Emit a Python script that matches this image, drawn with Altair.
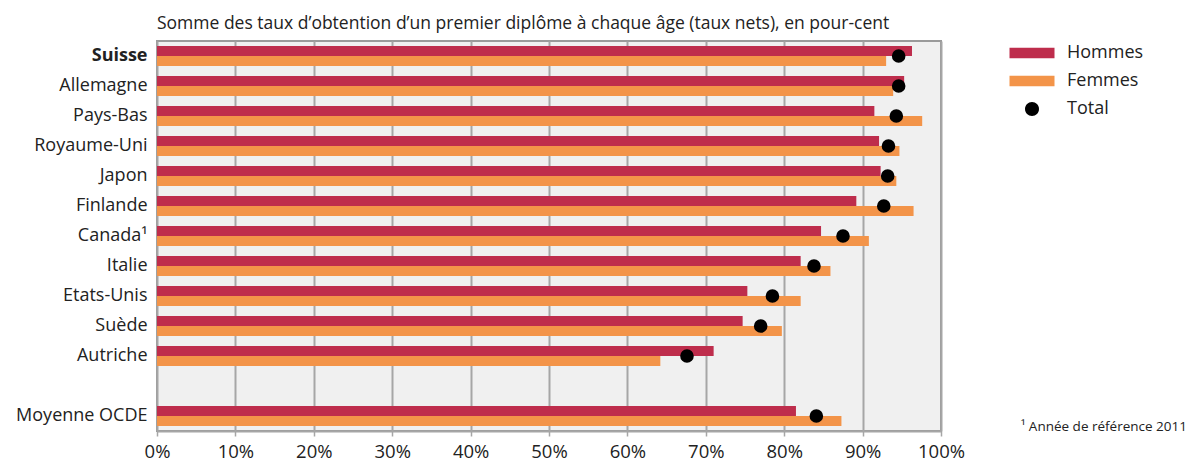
import altair as alt
import pandas as pd

countries = ["Suisse", "Allemagne", "Pays-Bas", "Royaume-Uni", "Japon", "Finlande",
             "Canada¹", "Italie", "Etats-Unis", "Suède", "Autriche", "Moyenne OCDE"]
hommes = [96.3, 95.3, 91.5, 92.1, 92.3, 89.2, 84.7, 82.1, 75.3, 74.7, 71.0, 81.5]
femmes = [93.0, 93.9, 97.6, 94.7, 94.3, 96.5, 90.8, 85.9, 82.1, 79.7, 64.2, 87.3]
total = [94.6, 94.6, 94.3, 93.3, 93.2, 92.7, 87.5, 83.8, 78.5, 77.0, 67.6, 84.1]

y_domain = countries[:-1] + [" "] + countries[-1:]
series = ["Hommes", "Femmes", "Total"]
colors = ["#BE2D4C", "#F39449", "#000000"]
x_ticks = [i / 10 for i in range(11)]

FONT = "Open Sans"

bars = pd.DataFrame({
    "pays": countries * 2,
    "sexe": ["Hommes"] * len(countries) + ["Femmes"] * len(countries),
    "taux": [v / 100 for v in hommes + femmes],
})
dots = pd.DataFrame({
    "pays": countries,
    "sexe": ["Total"] * len(countries),
    "taux": [v / 100 for v in total],
})
note = pd.DataFrame({"t": ["¹ Année de référence 2011"]})

RECT = "M-2.25,-0.53H2.25V0.53H-2.25Z"
CIRC = "M-0.7,0A0.7,0.7,0,1,1,0.7,0A0.7,0.7,0,1,1,-0.7,0Z"

color = alt.Color(
    "sexe:N",
    scale=alt.Scale(domain=series, range=colors),
    title=None,
    legend=alt.Legend(
        orient="none", legendX=865, legendY=2,
        symbolSize=400,
        symbolType=alt.ExprRef(f"datum.value == 'Total' ? '{CIRC}' : '{RECT}'"),
        symbolStrokeWidth=0, symbolOpacity=1, labelFontSize=18, labelFont=FONT, labelColor="#222",
        labelOffset=25, rowPadding=9, padding=0,
    ),
)

y_enc = alt.Y(
    "pays:N", sort=y_domain,
    scale=alt.Scale(domain=y_domain, paddingInner=0, paddingOuter=0),
    axis=alt.Axis(title=None, ticks=False, domain=False, labelFontSize=18, labelFont=FONT,
                  labelColor="#222", labelPadding=10,
                  labelFontWeight=alt.ExprRef("datum.value == 'Suisse' ? 'bold' : 'normal'")),
)
x_enc = alt.X(
    "taux:Q",
    scale=alt.Scale(domain=[0, 1], nice=False),
    axis=alt.Axis(title=None, format="%", values=x_ticks, grid=True, gridColor="#a6a6a6",
                  gridWidth=2, domain=True, domainColor="#a6a6a6", domainWidth=2,
                  tickColor="#a6a6a6", tickSize=5, tickWidth=1.5, labelFlush=False,
                  labelFontSize=18.5, labelFont=FONT, labelColor="#222", labelPadding=6),
)

bar_layer = alt.Chart(bars).mark_bar(size=10).encode(
    y=y_enc, x=x_enc, color=color,
    yOffset=alt.YOffset("sexe:N", sort=["Hommes", "Femmes"],
                        scale=alt.Scale(domain=["Hommes", "Femmes"], paddingInner=0, paddingOuter=0.5)),
)
dot_layer = alt.Chart(dots).mark_point(filled=True, size=185, opacity=1, shape="circle").encode(
    y=alt.Y("pays:N", sort=y_domain), x="taux:Q", color=color,
)
note_layer = alt.Chart(note).mark_text(
    align="right", baseline="middle", fontSize=13.5, font=FONT, color="#222"
).encode(text="t:N", x=alt.value(1030), y=alt.value(386))

chart = alt.layer(bar_layer, dot_layer, note_layer).properties(
    width=784, height=390,
    autosize=alt.AutoSizeParams(type="none"),
    padding={"left": 149, "top": 33, "right": 246, "bottom": 38},
    title=alt.Title(
        "Somme des taux d’obtention d’un premier diplôme à chaque âge (taux nets), en pour-cent",
        anchor="start", frame="group", baseline="alphabetic", fontSize=17.5, font=FONT,
        fontWeight="normal", color="#222", offset=10, dy=15,
    ),
).configure_view(
    fill="#f0f0f0", stroke="#9a9a9a", strokeWidth=2
).configure_scale(bandPaddingInner=0)

chart.save("out.html", embed_options={"renderer": "svg", "actions": False})
